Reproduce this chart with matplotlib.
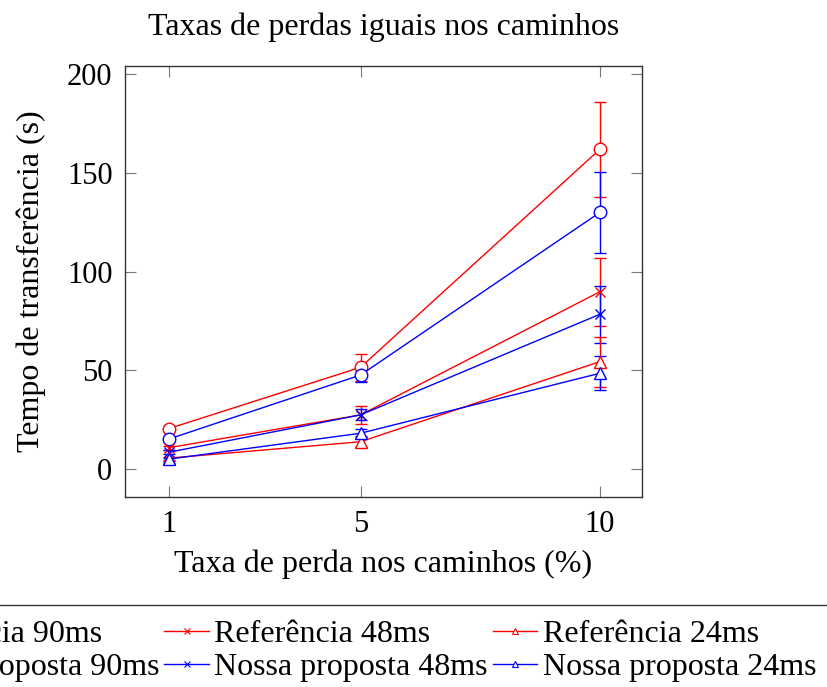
import matplotlib
matplotlib.use("Agg")
from matplotlib import pyplot as plt

plt.rcParams['font.family'] = ['Liberation Serif', 'DejaVu Serif']

# loss rate on the paths (%)
loss_rates = [1, 5, 10]

# mean transfer time (s) and error (s)
ref_90 = [20.5, 51.5, 162.0]
ref_90_err = [1.0, 6.8, 24.0]
ours_90 = [15.2, 47.6, 130.0]
ours_90_err = [1.0, 3.6, 20.5]
ref_48 = [10.8, 27.4, 89.8]
ref_48_err = [1.0, 4.5, 17.2]
ours_48 = [8.5, 27.4, 78.4]
ours_48_err = [1.0, 2.8, 14.5]
ref_24 = [5.5, 13.8, 54.4]
ref_24_err = [0.8, 2.8, 12.7]
ours_24 = [5.0, 18.1, 48.5]
ours_24_err = [0.8, 2.0, 8.6]

series = [
    ('Referência 90ms', ref_90, ref_90_err, 'red', 'o'),
    ('Nossa proposta 90ms', ours_90, ours_90_err, 'blue', 'o'),
    ('Referência 48ms', ref_48, ref_48_err, 'red', 'x'),
    ('Nossa proposta 48ms', ours_48, ours_48_err, 'blue', 'x'),
    ('Referência 24ms', ref_24, ref_24_err, 'red', '^'),
    ('Nossa proposta 24ms', ours_24, ours_24_err, 'blue', '^'),
]
msize = {'o': 9, 'x': 7, '^': 8}

fig = plt.figure(figsize=(8.27, 6.87), dpi=100)
ax = fig.add_axes([125 / 827, 1 - 497 / 687, 517 / 827, 431 / 687])

handles = []
for label, vals, errs, color, marker in series:
    ax.errorbar(loss_rates, vals, yerr=errs, color=color, lw=1.0,
                elinewidth=1.0, capsize=4, capthick=1.0,
                marker=marker, markersize=msize[marker],
                markerfacecolor='white' if marker != 'x' else color,
                markeredgecolor=color, markeredgewidth=1.0)
    h, = ax.plot([], [], color=color, lw=1.0, marker=marker, markersize=5,
                 markerfacecolor='white', markeredgecolor=color,
                 markeredgewidth=0.8, label=label)
    handles.append(h)

ax.set_xlim(0.08, 10.88)
ax.set_ylim(-14.2, 204.2)
ax.set_xticks(loss_rates)
ax.set_yticks([0, 50, 100, 150, 200])
ax.tick_params(direction='in', length=8, width=0.8, color='#777777',
               top=True, right=True, labelsize=22, pad=9)
for sp in ax.spines.values():
    sp.set_linewidth(1.0)
    sp.set_color('#333333')

ax.set_title('Taxas de perdas iguais nos caminhos', fontsize=23, pad=22)
ax.set_xlabel('Taxa de perda nos caminhos (%)', fontsize=23, labelpad=8)
ax.set_ylabel('Tempo de transferência (s)', fontsize=23, labelpad=15)

leg = fig.legend(handles, [s[0] for s in series],
                 loc='upper center', bbox_to_anchor=(326 / 827, 1 - 605 / 687),
                 borderaxespad=0, ncol=3, fontsize=23, frameon=True,
                 fancybox=False, edgecolor='black', handlelength=1.4,
                 handletextpad=0.16, columnspacing=0.16, labelspacing=0.12,
                 borderpad=0.45)
leg.get_frame().set_linewidth(1.0)

fig.savefig('out.png', dpi=100)
